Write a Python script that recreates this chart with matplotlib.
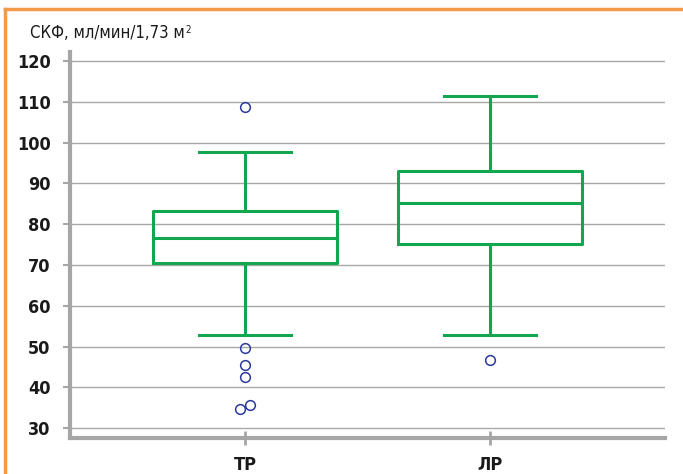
import numpy as np
import matplotlib.pyplot as plt
from matplotlib.lines import Line2D

# данные
groups = ['ТР', 'ЛР']
whisk_lo = [52.8, 52.8]
q1 = [70.5, 75.2]
med = [76.6, 85.2]
q3 = [83.3, 93.0]
whisk_hi = [97.7, 111.5]
# выбросы: (группа, значение, небольшой сдвиг по x)
out_group = [0, 0, 0, 0, 0, 0, 1]
out_value = [108.6, 49.6, 45.5, 42.6, 34.7, 35.6, 46.7]
out_shift = [0.0, 0.0, 0.0, 0.0, -0.02, 0.02, 0.0]

green = '#12a650'
grey = '#a6a6a6'
plt.rcParams['font.family'] = ['DejaVu Sans']

fig = plt.figure(figsize=(6.83, 4.74), dpi=100)
ax = fig.add_axes([70/683, 1-438/474, 595/683, 386/474])

pos = np.arange(1, len(groups)+1)
stats = []
for i in range(len(groups)):
    stats.append(dict(whislo=whisk_lo[i], q1=q1[i], med=med[i], q3=q3[i],
                      whishi=whisk_hi[i], fliers=[]))
ax.bxp(stats, positions=pos, widths=0.75, showfliers=False,
       boxprops=dict(color=green, linewidth=2.2),
       medianprops=dict(color=green, linewidth=2.2),
       whiskerprops=dict(color=green, linewidth=2.2),
       capprops=dict(color=green, linewidth=2.2), capwidths=0.375)

ox = pos[np.array(out_group)] + np.array(out_shift)
ax.plot(ox, out_value, 'o', mfc='none', mec='#2b3aa0', ms=7, mew=1.1, ls='none')

ax.set_xlim(0.285, 2.715)
ax.set_ylim(27.6, 122.2)
ax.set_yticks(np.arange(30, 121, 10))
ax.set_xticks(pos)
ax.set_xticklabels(groups)
ax.yaxis.grid(True, color='#a8a8a8', linewidth=1.0)
ax.set_axisbelow(True)
for s in ['top', 'right']:
    ax.spines[s].set_visible(False)
ax.spines['left'].set_color(grey)
ax.spines['left'].set_linewidth(3)
ax.spines['bottom'].set_color(grey)
ax.spines['bottom'].set_linewidth(3)
ax.tick_params(axis='y', length=5, width=1.5, color=grey, labelsize=13, pad=9)
ax.tick_params(axis='x', direction='inout', length=10, width=2, color=grey, labelsize=13, pad=8)
for t in ax.get_xticklabels() + ax.get_yticklabels():
    t.set_fontweight('bold')
    t.set_fontstretch('condensed')
    t.set_color('#1a1a1a')

title = fig.text(30/683, 1-33/474, 'СКФ, мл/мин/1,73 м', fontsize=12, va='center',
                 color='#1a1a1a', fontstretch='condensed')
ax.annotate('2', xy=(1, 1), xycoords=title, xytext=(0.3, -0.5), textcoords='offset points',
            va='top', ha='left', fontsize=7, color='#1a1a1a', annotation_clip=False,
            fontstretch='condensed')

# оранжевая рамка
fig.add_artist(Line2D([5/683, 5/683], [0, 1-9/474], color='#f39a4a', lw=2.5, transform=fig.transFigure))
fig.add_artist(Line2D([5/683, 1], [1-9/474, 1-9/474], color='#f39a4a', lw=2.5, transform=fig.transFigure))

fig.savefig('out.png', dpi=100)
